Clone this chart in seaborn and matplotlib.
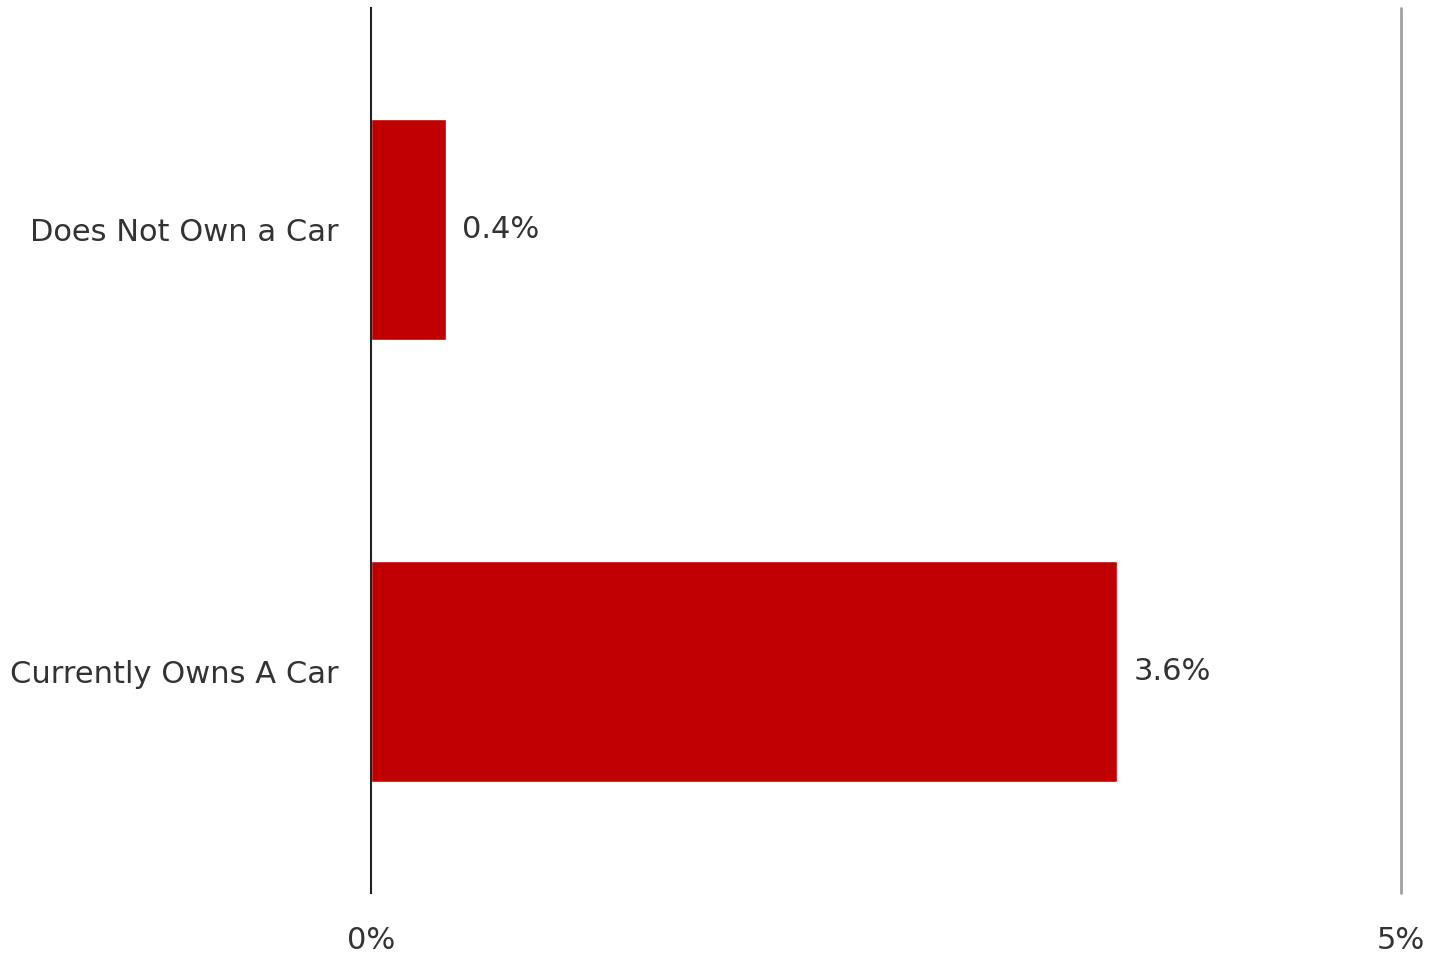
import matplotlib
matplotlib.use("Agg")
import matplotlib.pyplot as plt
import seaborn as sns
import pandas as pd

categories = ["Does Not Own a Car", "Currently Owns A Car"]
values = [0.364, 3.62]
x_ticks = [0, 5]
x_tick_labels = ["0%", "5%"]

df = pd.DataFrame({"group": categories, "share": values})

sns.set_theme(style="white")
plt.rcParams["font.family"] = ["DejaVu Sans"]

fig = plt.figure(figsize=(14.47, 9.58), dpi=100)
ax = fig.add_axes([0.2564, 0.0678, 0.9682 - 0.2564, 0.9916 - 0.0678])

sns.barplot(data=df, x="share", y="group", color="#C00000", saturation=1,
            width=0.5, ax=ax, orient="h")

ax.set_xlim(0, 5)
ax.set_ylim(1.5, -0.5)
ax.set_xticks(x_ticks)
ax.set_xticklabels(x_tick_labels)
ax.tick_params(axis="x", length=0, pad=24, labelsize=22, colors="#333333")
ax.tick_params(axis="y", length=0, pad=23, labelsize=22, colors="#333333")
ax.set_xlabel("")
ax.set_ylabel("")

for s in ["top", "right", "bottom"]:
    ax.spines[s].set_visible(False)
ax.spines["left"].set_color("#222222")
ax.spines["left"].set_linewidth(1.5)
ax.axvline(5, color="#a0a0a0", lw=2, zorder=0, clip_on=False)

for i, v in enumerate(values):
    ax.text(v + 0.08, i, f"{v:.1f}%", va="center", ha="left",
            fontsize=22, color="#333333")

fig.savefig("out.png", dpi=100)
